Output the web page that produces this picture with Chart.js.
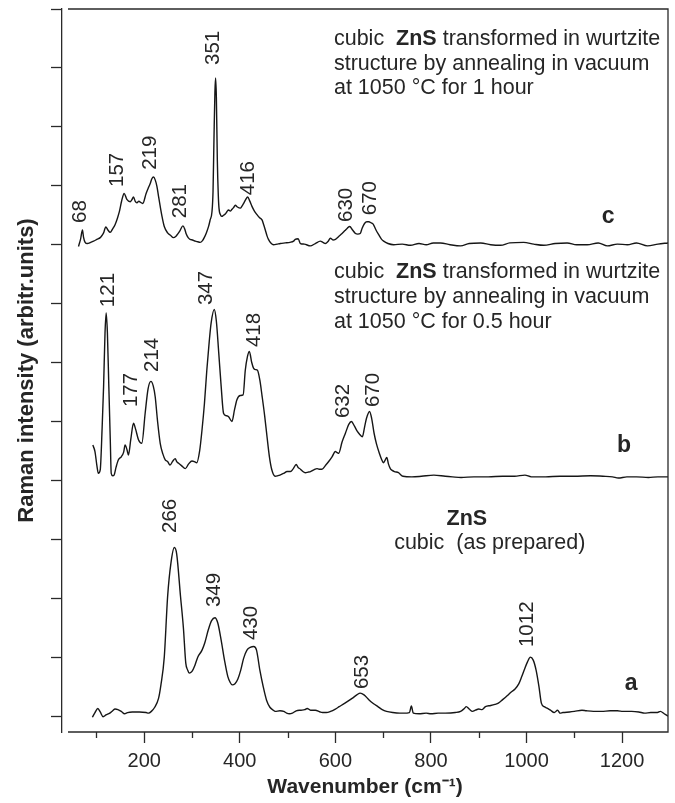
<!DOCTYPE html>
<html>
<head>
<meta charset="utf-8">
<script src="https://cdn.jsdelivr.net/npm/chart.js@4.4.1/dist/chart.umd.min.js"></script>
<style>
html,body{margin:0;padding:0;background:#ffffff;}
#wrap{width:675px;height:803px;}
</style>
</head>
<body>
<div id="wrap"><canvas id="chart" width="675" height="803"></canvas></div>
<script>
// ---------------- DATA ----------------
const xTickValues = [200, 400, 600, 800, 1000, 1200];
const xMinorTickValues = [100, 300, 500, 700, 900, 1100];
const yTickValues = [0, 1, 2, 3, 4, 5, 6, 7, 8, 9, 10, 11, 12];
const offsets = { a: 0, b: 4, c: 8 };

// spectrum a : cubic ZnS (as prepared)
const waveA = [91.6,97,103,108,114,120,128,134,139,145,152,159,165,175,190,204,209,215,222,230,235,242,249,256,263,268,276,282,287,291,294,300,306,312,321,327,334,341,348,354,361,368,375,380,384,390,396,402,408,415,423,429,435,442,449,456,463,470,474,484,492,498,504,510,518,528,536,541,548,558,568,573,581,590,600,608,620,635,645,652,660,671,680,689,698,707,720,735,743,755,759,763,775,790,800,815,830,851,862,870,874,880,887,893,900,907,914,925,934,941,950,960,968,976,984,990,996,1002,1008,1014,1020,1026,1031,1037,1044,1050,1058,1065,1070,1076,1090,1100,1116,1125,1140,1157,1175,1190,1202,1220,1235,1247,1260,1274,1280,1288,1296];
const ramanA = [-0.02,0.06,0.13,0.07,-0.01,0.02,0.05,0.09,0.12,0.11,0.08,0.04,0.06,0.07,0.07,0.06,0.05,0.08,0.15,0.3,0.53,1.0,2.03,2.6,2.86,2.75,2.03,1.5,0.9,0.78,0.73,0.76,0.86,1.0,1.12,1.25,1.46,1.62,1.67,1.58,1.29,0.95,0.67,0.57,0.53,0.55,0.63,0.78,0.98,1.12,1.17,1.18,1.12,0.78,0.5,0.27,0.15,0.1,0.08,0.09,0.08,0.05,0.04,0.05,0.09,0.10,0.11,0.13,0.1,0.1,0.07,0.06,0.06,0.08,0.12,0.16,0.22,0.3,0.36,0.39,0.36,0.27,0.21,0.16,0.11,0.08,0.06,0.05,0.05,0.06,0.17,0.05,0.04,0.05,0.04,0.05,0.05,0.06,0.08,0.13,0.16,0.12,0.08,0.1,0.12,0.11,0.16,0.18,0.2,0.22,0.28,0.35,0.41,0.46,0.55,0.67,0.8,0.92,1.0,0.95,0.78,0.5,0.22,0.16,0.13,0.1,0.06,0.1,0.05,0.06,0.07,0.08,0.1,0.09,0.08,0.08,0.09,0.09,0.08,0.08,0.07,0.05,0.06,0.06,0.08,0.04,0.0];

// spectrum b : annealed 0.5 hour
const waveB = [92.5,97,101,104,108,112,115,118,120.4,123,126,129,131,134,137,141,146,152,157,160,164,167,172,177.6,182,188,195,202,208,214,219,223,228,233.5,239,244,249,254,260,265,268,272,278,286,293,300,305,310,316,321,326,331,336,340,346.6,351,356,361,366,371,376.6,383.6,389,394,401,407,411.5,416,420,425,429,433,437,442,446.5,452,457,462,467,474,480,484,492,499,506,512,518,522,527,532,537,543,548,555,561.6,566,572,580,586,593,600,604,607,614,621,628,633.5,640,646,651,656.5,661,665,671.5,676,681,686,692,697,700.5,704,707.6,711,715,719,723.6,732,741.5,760,780,806,830,845,863,890,920,950,975,996.6,1010,1040,1070,1100,1134,1160,1180,1192,1210,1230,1255,1275,1296];
const ramanB = [0.60,0.49,0.25,0.12,0.18,0.9,1.59,2.5,2.84,2.5,1.59,0.7,0.12,0.08,0.09,0.22,0.35,0.40,0.48,0.60,0.52,0.43,0.7,0.97,0.87,0.69,0.63,1.14,1.55,1.68,1.6,1.42,1.0,0.63,0.45,0.35,0.32,0.26,0.33,0.37,0.32,0.29,0.25,0.20,0.28,0.33,0.32,0.30,0.5,0.86,1.3,1.87,2.35,2.67,2.90,2.7,2.16,1.6,1.14,1.1,1.08,1.0,1.2,1.37,1.44,1.45,1.87,2.1,2.19,2.0,1.9,1.88,1.87,1.7,1.44,1.1,0.74,0.4,0.18,0.07,0.08,0.09,0.12,0.15,0.15,0.2,0.27,0.22,0.19,0.15,0.13,0.14,0.15,0.18,0.20,0.19,0.19,0.26,0.32,0.40,0.49,0.47,0.46,0.65,0.80,0.95,1.0,0.92,0.83,0.78,0.74,0.9,1.05,1.17,1.05,0.80,0.62,0.46,0.35,0.30,0.34,0.39,0.28,0.20,0.17,0.15,0.13,0.07,0.06,0.07,0.09,0.07,0.06,0.05,0.06,0.06,0.07,0.07,0.09,0.06,0.06,0.07,0.07,0.08,0.07,0.06,0.04,0.06,0.06,0.05,0.06,0.06];

// spectrum c : annealed 1 hour
const waveC = [62.5,67,70.8,73,76.4,81,88,94,101,108,112,115,119.7,124,128.8,134,139,144,148,153,158,163.7,170.7,174,177.6,181,184.7,189,192,197,204,208,212.6,216,219.5,223,226.6,230,233.5,238,242,249,255,261,266,270,275,281,285,288,292,296,301,307,312,317,322,325.6,330,334.7,338,341.8,344,346,348,349.4,351,353,355,356.5,360,362.6,366,369.6,373,376.6,380,383.6,387,390.6,395,401,405,408,412,416.5,421,425.5,430,436,441,446.5,450,453.4,457,460,465,470.8,478,485,495,505,512.6,516,522,527,535,547.6,558,568.6,574,579,585,589.5,595,600,607,614,620,625,630,636,642,647,652,656,661,666,670,675,679,685,690.7,696,701,710,722,740,757,775,790,805,820,840,862,880,904,925,945.5,965,994,1015,1036,1060,1085,1105,1127,1150,1169,1190,1211,1230,1253,1275,1296];
const ramanC = [-0.03,0.10,0.25,0.13,0.04,0.02,0.04,0.06,0.09,0.12,0.16,0.20,0.30,0.25,0.21,0.27,0.34,0.45,0.56,0.75,0.87,0.77,0.73,0.76,0.81,0.74,0.71,0.74,0.72,0.70,0.87,0.95,1.04,1.12,1.15,1.1,0.99,0.82,0.65,0.45,0.31,0.20,0.16,0.12,0.14,0.18,0.24,0.32,0.26,0.18,0.12,0.09,0.08,0.06,0.05,0.04,0.07,0.12,0.2,0.31,0.42,0.56,0.9,1.8,2.6,2.83,2.5,1.44,0.85,0.62,0.50,0.48,0.50,0.52,0.56,0.59,0.57,0.60,0.63,0.67,0.64,0.62,0.66,0.70,0.76,0.81,0.74,0.65,0.58,0.51,0.46,0.42,0.34,0.25,0.15,0.09,0.03,0.0,0.01,0.02,0.03,0.04,0.06,0.09,0.10,0.02,0.01,-0.02,0.02,0.06,0.04,0.02,0.06,0.11,0.08,0.09,0.14,0.19,0.24,0.28,0.31,0.25,0.19,0.18,0.19,0.28,0.36,0.39,0.39,0.37,0.35,0.25,0.17,0.10,0.06,0.02,0.0,0.01,-0.01,0.02,0.0,0.03,0.03,0.0,-0.02,0.02,0.03,0.0,-0.01,0.03,0.04,0.01,-0.01,0.02,0.03,0.0,0.0,0.03,-0.02,0.01,0.0,0.03,-0.02,0.01,0.03];

// peak annotations (text, wavenumber position, height above the spectrum baseline)
const peakTextA = ['266','349','430','653','1012'];
const peakXA    = [254, 347.4, 423.5, 657, 1001];
const peakYA    = [3.107, 1.85, 1.29, 0.459, 1.172];
const peakTextB = ['121','177','214','347','418','632','670'];
const peakXB    = [125, 174, 216, 331, 430, 617, 680.5];
const peakYB    = [2.94, 1.245, 1.84, 2.976, 2.263, 1.058, 1.245];
const peakTextC = ['68','157','219','281','351','416','630','670'];
const peakXC    = [66.8, 143, 212, 275, 344.6, 418, 624, 674];
const peakYC    = [0.37, 0.98, 1.27, 0.45, 3.05, 0.84, 0.385, 0.50];

// ---------------- STYLE ----------------
const FONT = '"Liberation Sans", Arial, Helvetica, sans-serif';
const TEXT = '#262626';
const LINE = '#161616';
const AXIS = '#2a2a2a';

Chart.defaults.font.family = FONT;
Chart.defaults.color = TEXT;

function toPoints(xs, ys, off) {
  return xs.map((v, i) => ({ x: v, y: ys[i] + off }));
}

function drawRuns(ctx, runs, x0, y0, size) {
  let xx = x0;
  runs.forEach(([t, bold]) => {
    ctx.font = (bold ? 'bold ' : '') + size + 'px ' + FONT;
    ctx.fillText(t, xx, y0);
    xx += ctx.measureText(t).width;
  });
}

const annotPlugin = {
  id: 'annot',
  afterDraw(chart) {
    const { ctx, chartArea: ca, scales } = chart;
    const x = scales.x, y = scales.y;
    ctx.save();
    // frame: top, right, bottom lines
    ctx.strokeStyle = AXIS;
    ctx.lineWidth = 1.3;
    ctx.beginPath();
    ctx.moveTo(ca.left + 6, ca.top);
    ctx.lineTo(ca.right, ca.top);
    ctx.lineTo(ca.right, ca.bottom);
    ctx.lineTo(ca.left + 6, ca.bottom);
    ctx.stroke();
    // minor x ticks
    ctx.beginPath();
    xMinorTickValues.forEach(v => {
      const px = Math.round(x.getPixelForValue(v)) + 0.5;
      ctx.moveTo(px, ca.bottom);
      ctx.lineTo(px, ca.bottom + 6);
    });
    ctx.stroke();

    // rotated peak labels
    ctx.fillStyle = TEXT;
    ctx.font = '20.5px ' + FONT;
    ctx.textAlign = 'left';
    ctx.textBaseline = 'middle';
    const groups = [
      [peakTextA, peakXA, peakYA, offsets.a],
      [peakTextB, peakXB, peakYB, offsets.b],
      [peakTextC, peakXC, peakYC, offsets.c]
    ];
    groups.forEach(([txt, xs, ys, off]) => {
      txt.forEach((t, j) => {
        const px = x.getPixelForValue(xs[j]);
        const py = y.getPixelForValue(ys[j] + off);
        ctx.save();
        ctx.translate(px, py);
        ctx.rotate(-Math.PI / 2);
        ctx.fillText(t, 0, 0);
        ctx.restore();
      });
    });

    // description blocks
    ctx.textBaseline = 'alphabetic';
    ctx.textAlign = 'left';
    const blockX = x.getPixelForValue(597);
    const topLines = [
      [['cubic  ', 0], ['ZnS', 1], [' transformed in wurtzite', 0]],
      [['structure by annealing in vacuum', 0]],
      [['at 1050 \u00B0C for 1 hour', 0]]
    ];
    const midLines = [
      [['cubic  ', 0], ['ZnS', 1], [' transformed in wurtzite', 0]],
      [['structure by annealing in vacuum', 0]],
      [['at 1050 \u00B0C for 0.5 hour', 0]]
    ];
    const topY = [11.39, 10.965, 10.557];
    const midY = [7.434, 7.01, 6.586];
    topLines.forEach((runs, i) => drawRuns(ctx, runs, blockX, y.getPixelForValue(topY[i]), 21.5));
    midLines.forEach((runs, i) => drawRuns(ctx, runs, blockX, y.getPixelForValue(midY[i]), 21.5));

    ctx.textAlign = 'center';
    ctx.font = 'bold 21.5px ' + FONT;
    ctx.fillText('ZnS', x.getPixelForValue(875), y.getPixelForValue(3.242));
    ctx.font = '21.5px ' + FONT;
    ctx.fillText('cubic  (as prepared)', x.getPixelForValue(923), y.getPixelForValue(2.84));

    // curve letters
    ctx.font = 'bold 23px ' + FONT;
    ctx.fillText('c', x.getPixelForValue(1170.5), y.getPixelForValue(8.37));
    ctx.fillText('b', x.getPixelForValue(1204), y.getPixelForValue(4.48));
    ctx.fillText('a', x.getPixelForValue(1218.7), y.getPixelForValue(0.44));
    ctx.restore();
  }
};

const lineStyle = {
  borderColor: LINE,
  borderWidth: 1.4,
  pointRadius: 0,
  fill: false,
  cubicInterpolationMode: 'monotone'
};

new Chart(document.getElementById('chart'), {
  type: 'line',
  data: {
    datasets: [
      Object.assign({ label: 'a', data: toPoints(waveA, ramanA, offsets.a) }, lineStyle),
      Object.assign({ label: 'b', data: toPoints(waveB, ramanB, offsets.b) }, lineStyle),
      Object.assign({ label: 'c', data: toPoints(waveC, ramanC, offsets.c) }, lineStyle)
    ]
  },
  options: {
    responsive: false,
    devicePixelRatio: 1,
    animation: false,
    layout: { padding: { top: 9, right: 7, left: 0, bottom: 0 } },
    plugins: { legend: { display: false }, tooltip: { enabled: false } },
    scales: {
      x: {
        type: 'linear',
        min: 28,
        max: 1296,
        afterBuildTicks: s => { s.ticks = xTickValues.map(v => ({ value: v })); },
        afterFit: s => { s.height = 71; },
        grid: { drawOnChartArea: false, drawTicks: true, tickLength: 11, tickColor: AXIS, tickWidth: 1.3 },
        border: { display: false },
        ticks: { font: { size: 20 }, color: TEXT, padding: 6, maxRotation: 0, autoSkip: false, callback: v => String(v) },
        title: {
          display: true,
          text: 'Wavenumber (cm\u207B\u00B9)',
          font: { size: 21, weight: 'bold' },
          color: TEXT,
          padding: { top: 0, bottom: 3 }
        }
      },
      y: {
        type: 'linear',
        min: -0.27,
        max: 12,
        afterBuildTicks: s => { s.ticks = yTickValues.map(v => ({ value: v })); },
        afterFit: s => { s.width = 62; },
        grid: { drawOnChartArea: false, drawTicks: true, tickLength: 11, tickColor: AXIS, tickWidth: 1.3 },
        border: { display: true, color: AXIS, width: 1.3 },
        ticks: { display: false },
        title: {
          display: true,
          text: 'Raman intensity (arbitr.units)',
          font: { size: 22, weight: 'bold' },
          color: TEXT,
          padding: { top: 14, bottom: 0 }
        }
      }
    }
  },
  plugins: [annotPlugin]
});
</script>
</body>
</html>
